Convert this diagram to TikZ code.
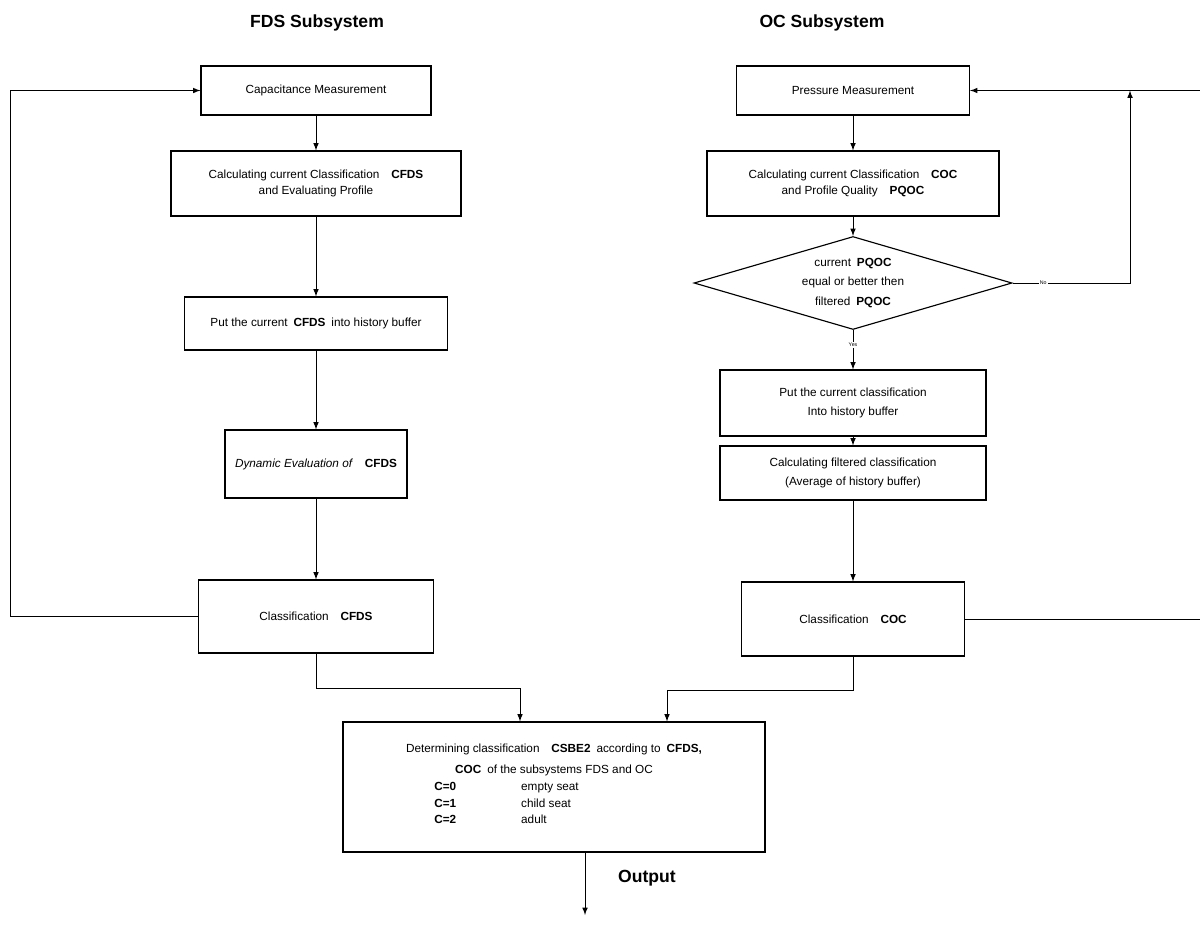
\documentclass[tikz,border=0pt]{standalone}
\usepackage{fontspec}
\setmainfont{Liberation Sans}
\usetikzlibrary{shapes.geometric}
\usetikzlibrary{calc}

\begin{document}
\begin{tikzpicture}[black, line width = 0.45pt, >=latex,
    block/.style = {draw, rectangle, line width=0.65pt, align=center, inner sep=2pt,
                    font=\fontsize{6.7}{10.5}\selectfont},
    decision/.style = {draw, diamond, line width=0.65pt, aspect=3.4, inner sep=0pt,
                       align=center, font=\fontsize{6.7}{11.3}\selectfont},
    heading/.style = {font=\fontsize{10}{12}\selectfont\bfseries},
    branch/.style = {font=\fontsize{3}{3.5}\selectfont, fill=white, inner sep=0.6pt}]

\useasboundingbox (0,0) rectangle (24,-18.5);

\pgfmathsetmacro{\xl}{6.32}
\pgfmathsetmacro{\xr}{17.06}

\node[heading] (titleFDS) at (6.34,-0.46) {FDS Subsystem};
\node[heading] (titleOC)  at (16.44,-0.46) {OC Subsystem};

% FDS column
\node[block, minimum width=4.6cm, minimum height=0.98cm] (capMeas) at (\xl,-1.81)
    {Capacitance Measurement};
\node[block, minimum width=5.8cm, minimum height=1.3cm, font=\fontsize{6.7}{9.2}\selectfont]
    (calcFDS) at (\xl,-3.67)
    {Calculating current Classification\quad\textbf{CFDS}\\ and Evaluating Profile};
\node[block, minimum width=5.26cm, minimum height=1.06cm] (putFDS) at (\xl,-6.47)
    {Put the current\enspace\textbf{CFDS}\enspace into history buffer};
\node[block, minimum width=3.64cm, minimum height=1.36cm] (dynFDS) at (\xl,-9.28)
    {\textit{Dynamic Evaluation of}\quad\textbf{CFDS}};
\node[block, minimum width=4.7cm, minimum height=1.46cm] (classFDS) at (\xl,-12.33)
    {Classification\quad\textbf{CFDS}};

% OC column
\node[block, minimum width=4.66cm, minimum height=0.98cm] (presMeas) at (\xr,-1.81)
    {Pressure Measurement};
\node[block, minimum width=5.84cm, minimum height=1.3cm, font=\fontsize{6.7}{9.2}\selectfont]
    (calcOC) at (\xr,-3.67)
    {Calculating current Classification\quad\textbf{COC}\\ and Profile Quality\quad\textbf{PQOC}};
\node[decision, minimum width=6.36cm, minimum height=1.86cm] (check) at (\xr,-5.66)
    {current\enspace\textbf{PQOC}\\ equal or better then\\ filtered\enspace\textbf{PQOC}};
\node[block, minimum width=5.32cm, minimum height=1.32cm] (putOC) at (\xr,-8.06)
    {Put the current classification\\ Into history buffer};
\node[block, minimum width=5.32cm, minimum height=1.08cm] (filtOC) at (\xr,-9.46)
    {Calculating filtered classification\\ (Average of history buffer)};
\node[block, minimum width=4.46cm, minimum height=1.48cm] (classOC) at (\xr,-12.38)
    {Classification\quad\textbf{COC}};

% combined result
\node[block, minimum width=8.44cm, minimum height=2.6cm, font=\fontsize{6.7}{11.8}\selectfont]
    (decide) at (11.08,-15.74)
    {Determining classification\quad\textbf{CSBE2}\enspace according to\enspace\textbf{CFDS,}\\
     \textbf{COC}\enspace of the subsystems FDS and OC\\[-1pt]
     \hspace*{-1.9cm}\begin{tabular}{@{}l@{\hspace{1.3cm}}l@{}}
       \textbf{C=0} & empty seat\\[-2.3pt]
       \textbf{C=1} & child seat\\[-2.3pt]
       \textbf{C=2} & adult
     \end{tabular}};
\node[heading] (outLabel) at (12.94,-17.56) {Output};

\coordinate (feedFDS) at (0.2,-1.81);
\coordinate (feedOC)  at (24,-1.81);
\coordinate (noUp)    at (22.6,-1.81);
\coordinate (joinL)   at (10.4,-13.76);
\coordinate (joinR)   at (13.34,-13.8);
\coordinate (outEnd)  at (11.7,-18.3);

\foreach \FROM/\TO in {capMeas/calcFDS, calcFDS/putFDS, putFDS/dynFDS, dynFDS/classFDS,
                       presMeas/calcOC, calcOC/check, putOC/filtOC, filtOC/classOC}
    \draw[->] (\FROM) -- (\TO);

\draw[->] (check) -- node[branch, pos=0.38] {Yes} (putOC);
\draw[->] (check.east) -- node[branch, pos=0.26] {No} (check.east -| noUp) -- (noUp);

% feedback loops
\draw[->] (classFDS.west) -- (classFDS.west -| feedFDS) -- (feedFDS) -- (capMeas.west);
\draw[<-] (presMeas.east) -- (feedOC);
\draw (classOC.east) -- (classOC.east -| feedOC);

\draw[->] (classFDS.south) |- (joinL) -- (joinL |- decide.north);
\draw[->] (classOC.south) |- (joinR) -- (joinR |- decide.north);
\draw[->] (decide.south -| outEnd) -- (outEnd);

\end{tikzpicture}
\end{document}
